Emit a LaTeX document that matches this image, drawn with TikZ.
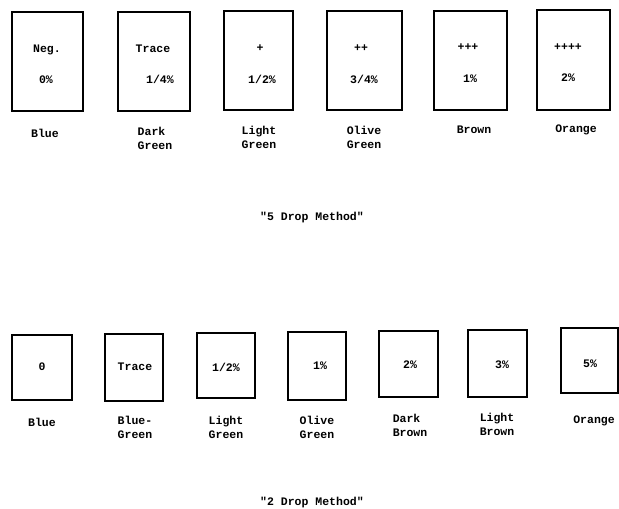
\documentclass[tikz,border=0pt]{standalone}
\usepackage{fontspec}
\setmainfont{Liberation Mono}[Ligatures=TeXOff]
\begin{document}
\begin{tikzpicture}[x=1pt,y=-1pt,
  swatch/.style={draw,line width=1.1pt},
  txt/.style={font=\bfseries\fontsize{11.5}{13.5}\selectfont,inner sep=0pt,align=left}]
\useasboundingbox (0,0) rectangle (619,509);
% top row
\draw[swatch] (12,12) rectangle (83,111) node[pos=0,inner sep=0] (t1) {};
\draw[swatch] (118,12) rectangle (190,111) node[pos=0,inner sep=0] (t2) {};
\draw[swatch] (224,11) rectangle (293,110) node[pos=0,inner sep=0] (t3) {};
\draw[swatch] (327,11) rectangle (402,110) node[pos=0,inner sep=0] (t4) {};
\draw[swatch] (434,11) rectangle (507,110) node[pos=0,inner sep=0] (t5) {};
\draw[swatch] (537,10) rectangle (610,110) node[pos=0,inner sep=0] (t6) {};
\node[txt] (a1) at (47,50) {Neg.};
\node[txt] (b1) at (46,80) {0\%};
\node[txt] (a2) at (153,49) {Trace};
\node[txt] (b2) at (160,79) {1/4\%};
\node[txt] (a3) at (260,48) {+};
\node[txt] (b3) at (262,79) {1/2\%};
\node[txt] (a4) at (361,48) {++};
\node[txt] (b4) at (364,79) {3/4\%};
\node[txt] (a5) at (468,47) {+++};
\node[txt] (b5) at (470,79) {1\%};
\node[txt] (a6) at (568,47) {++++};
\node[txt] (b6) at (568,78) {2\%};
\node[txt] (l1) at (45,133) {Blue};
\node[txt,anchor=north] (l2) at (155,127) {Dark\\Green};
\node[txt,anchor=north] (l3) at (259,126) {Light\\Green};
\node[txt,anchor=north] (l4) at (364,126) {Olive\\Green};
\node[txt] (l5) at (474,130) {Brown};
\node[txt] (l6) at (576,130) {Orange};
\node[txt] (c1) at (312,218) {"5 Drop Method"};
% bottom row
\draw[swatch] (12,335) rectangle (72,400) node[pos=0,inner sep=0] (s1) {};
\draw[swatch] (105,334) rectangle (163,401) node[pos=0,inner sep=0] (s2) {};
\draw[swatch] (197,333) rectangle (255,398) node[pos=0,inner sep=0] (s3) {};
\draw[swatch] (288,332) rectangle (346,400) node[pos=0,inner sep=0] (s4) {};
\draw[swatch] (379,331) rectangle (438,397) node[pos=0,inner sep=0] (s5) {};
\draw[swatch] (468,330) rectangle (527,397) node[pos=0,inner sep=0] (s6) {};
\draw[swatch] (561,328) rectangle (618,393) node[pos=0,inner sep=0] (s7) {};
\node[txt] (v1) at (42,367) {0};
\node[txt] (v2) at (135,367) {Trace};
\node[txt] (v3) at (226,367) {1/2\%};
\node[txt] (v4) at (320,366) {1\%};
\node[txt] (v5) at (410,365) {2\%};
\node[txt] (v6) at (502,365) {3\%};
\node[txt] (v7) at (590,364) {5\%};
\node[txt] (m1) at (42,422) {Blue};
\node[txt,anchor=north] (m2) at (135,416) {Blue-\\Green};
\node[txt,anchor=north] (m3) at (226,416) {Light\\Green};
\node[txt,anchor=north] (m4) at (317,416) {Olive\\Green};
\node[txt,anchor=north] (m5) at (410,414) {Dark\\Brown};
\node[txt,anchor=north] (m6) at (497,413) {Light\\Brown};
\node[txt] (m7) at (594,421) {Orange};
\node[txt] (c2) at (312,503) {"2 Drop Method"};
\end{tikzpicture}
\end{document}
